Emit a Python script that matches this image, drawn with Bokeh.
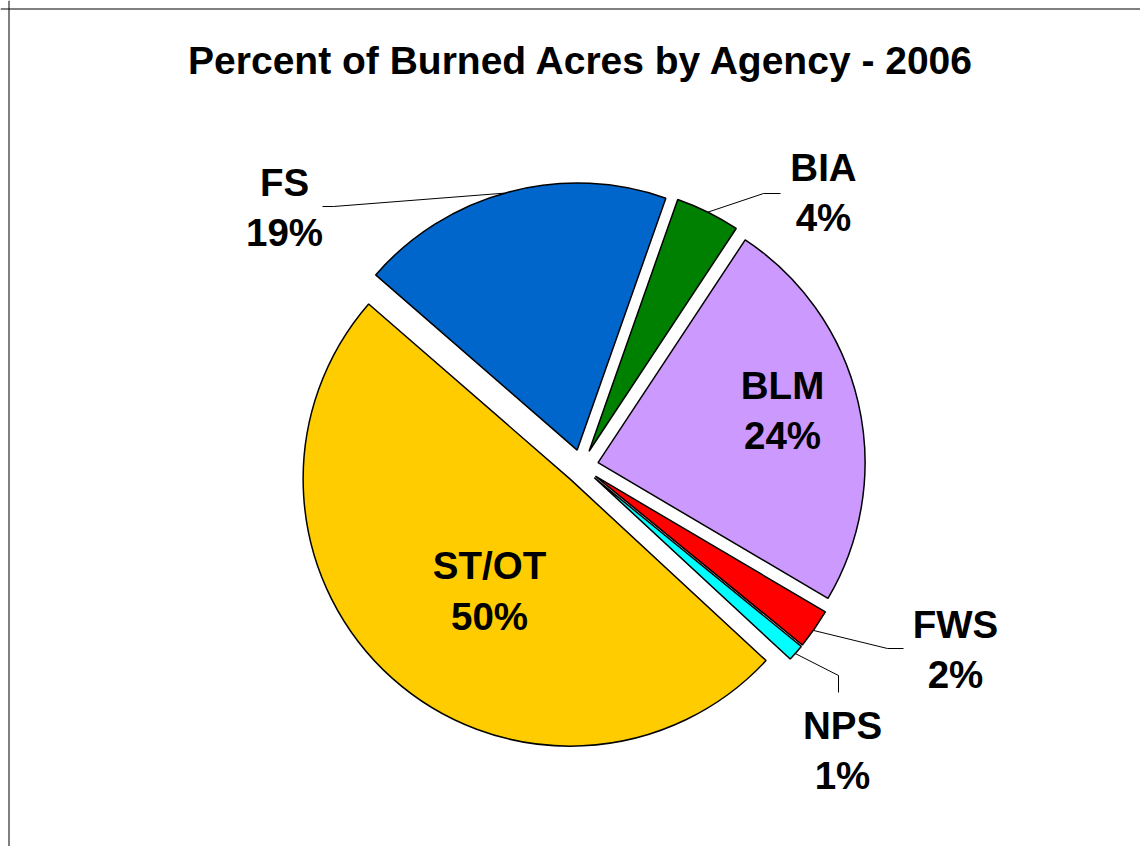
import numpy as np
from bokeh.plotting import figure
from bokeh.models import Range1d, Span, Label, ColumnDataSource
from bokeh.core.properties import value
from bokeh.embed import file_html
from bokeh.resources import INLINE

# ---------------- data ----------------
agencies = ["FS", "BIA", "BLM", "FWS", "NPS", "ST/OT"]
percent = [19.0, 3.9, 24.2, 2.4, 1.0, 49.5]
labels_pct = ["19%", "4%", "24%", "2%", "1%", "50%"]
colors = ["#0066CC", "#008000", "#CC99FF", "#FF0000", "#00FFFF", "#FFCC00"]
title_text = "Percent of Burned Acres by Agency - 2006"

# ---------------- layout (page pixels) ----------------
W, H = 1140, 846
FONT = "Liberation Sans"
CENTER_PX = (581.0, 466.0)
RADIUS = 267.0
EXPLODE = 17.0
START_DEG = -49.0          # clockwise from 12 o'clock
FRAME_PX = 8.5
TEXT_SHIFT = 13.0          # renderer places alphabetic baseline lower

# label x, baseline of name, baseline of percent (page pixels)
label_layout = {
    "FS": (284, 195, 245),
    "BIA": (823, 180, 230),
    "BLM": (782, 398, 448),
    "FWS": (955, 637, 687),
    "NPS": (842, 738, 788),
    "ST/OT": (489, 578, 629),
}
# leader lines: anchor angle offset from bisector, then elbow and end (page pixels)
leader_layout = {
    "FS": (-1.0, (333, 206), (322, 206)),
    "BIA": (0.0, (763, 193), (780, 193)),
    "FWS": (0.4, (887, 648), (903, 648)),
    "NPS": (0.2, (838, 675), (838, 692)),
}


def to_data(px, py):
    return px, H - py


p = figure(width=W, height=H, output_backend="svg", toolbar_location=None,
           x_range=Range1d(0, W), y_range=Range1d(0, H),
           min_border=0, min_border_left=0, min_border_right=0,
           min_border_top=0, min_border_bottom=0)
p.axis.visible = False
p.grid.visible = False
p.outline_line_color = None
p.background_fill_color = "white"
p.border_fill_color = "white"

# frame (top and left edges visible in the reference)
p.add_layout(Span(location=H - FRAME_PX, dimension="width", line_color="black", line_width=1))
p.add_layout(Span(location=FRAME_PX, dimension="height", line_color="black", line_width=1))

# ---------------- pie geometry from the data ----------------
vals = np.array(percent, dtype=float)
frac = vals / vals.sum()
theta_end = START_DEG + np.cumsum(frac) * 360.0
theta_start = theta_end - frac * 360.0
theta_mid = (theta_start + theta_end) / 2.0

cx, cy = to_data(*CENTER_PX)
wx = cx + EXPLODE * np.sin(np.radians(theta_mid))
wy = cy + EXPLODE * np.cos(np.radians(theta_mid))
start_angle = np.radians(90.0 - theta_end)
end_angle = np.radians(90.0 - theta_start)

src = ColumnDataSource(dict(x=wx, y=wy, start=start_angle, end=end_angle,
                            color=colors, agency=agencies))
p.wedge(x="x", y="y", radius=RADIUS, start_angle="start", end_angle="end",
        fill_color="color", line_color="black", line_width=1.5, source=src)

# ---------------- leader lines ----------------
xs, ys = [], []
for i, name in enumerate(agencies):
    if name not in leader_layout:
        continue
    off, elbow, end = leader_layout[name]
    ang = np.radians(theta_mid[i] + off)
    ax = wx[i] + RADIUS * np.sin(ang)
    ay = wy[i] + RADIUS * np.cos(ang)
    ex, ey = to_data(*elbow)
    tx, ty = to_data(*end)
    xs.append([ax, ex, tx])
    ys.append([ay, ey, ty])
p.multi_line(xs=xs, ys=ys, line_color="black", line_width=1)

# ---------------- labels ----------------
lx, ly, lt = [], [], []
for i, name in enumerate(agencies):
    x, b1, b2 = label_layout[name]
    dx, dy1 = to_data(x, b1 - TEXT_SHIFT)
    _, dy2 = to_data(x, b2 - TEXT_SHIFT)
    lx += [dx, dx]
    ly += [dy1, dy2]
    lt += [name, labels_pct[i]]
p.text(x=lx, y=ly, text=lt, text_font=value(FONT), text_font_style="bold",
       text_font_size="38.5px", text_align="center", text_baseline="alphabetic",
       text_color="black")

tx, ty = to_data(581, 72.5 - TEXT_SHIFT)
p.add_layout(Label(x=tx, y=ty, text=title_text, text_font=FONT,
                   text_font_style="bold", text_font_size="39px",
                   text_align="center", text_baseline="alphabetic",
                   text_color="black"))

open("out.html", "w").write(file_html(p, INLINE))
